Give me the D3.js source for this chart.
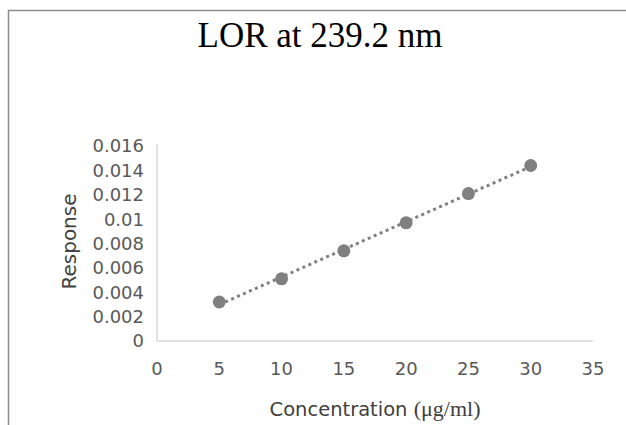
<!DOCTYPE html>
<html>
<head>
<meta charset="utf-8">
<script src="https://cdn.jsdelivr.net/npm/d3@7"></script>
<style>
  body { margin: 0; background: #fff; }
  text { font-family: "DejaVu Sans", sans-serif; }
</style>
</head>
<body>
<div id="chart"></div>
<script>
var concentration = [5, 10, 15, 20, 25, 30];
var response = [0.0032, 0.0051, 0.0074, 0.0097, 0.0121, 0.0144];
var xTicks = [0, 5, 10, 15, 20, 25, 30, 35];
var yTicks = [0, 0.002, 0.004, 0.006, 0.008, 0.01, 0.012, 0.014, 0.016];

var width = 626, height = 425;
var margin = {top: 146, left: 157, right: 33, bottom: 84};

var svg = d3.select('#chart').append('svg')
  .attr('width', width)
  .attr('height', height);

// chart frame (only top and left edges visible in the crop)
svg.append('path')
  .attr('d', 'M8.5,' + height + 'V10.5H' + width)
  .attr('fill', 'none')
  .attr('stroke', '#8c8c8c')
  .attr('stroke-width', 1.5);

var x = d3.scaleLinear().domain([0, 35]).range([margin.left, width - margin.right]);
var y = d3.scaleLinear().domain([0, 0.016]).range([height - margin.bottom, margin.top]);

svg.append('text')
  .attr('x', 320).attr('y', 47)
  .attr('text-anchor', 'middle')
  .style('font-family', '"Liberation Serif", serif')
  .style('font-size', '35px')
  .attr('fill', '#000')
  .text('LOR at 239.2 nm');

// axis lines
svg.append('line')
  .attr('x1', x(0)).attr('x2', x(0))
  .attr('y1', y(0.016) - 2).attr('y2', y(0))
  .attr('stroke', '#d9d9d9').attr('stroke-width', 1.5);
svg.append('line')
  .attr('x1', x(0)).attr('x2', x(35))
  .attr('y1', y(0)).attr('y2', y(0))
  .attr('stroke', '#d9d9d9').attr('stroke-width', 1.5);

svg.append('g').selectAll('text')
  .data(yTicks)
  .join('text')
  .attr('x', x(0) - 13)
  .attr('y', function(d) { return y(d); })
  .attr('dy', '0.36em')
  .attr('text-anchor', 'end')
  .attr('fill', '#595959')
  .style('font-size', '18px')
  .text(function(d) { return d3.format('~g')(d); });

svg.append('g').selectAll('text')
  .data(xTicks)
  .join('text')
  .attr('x', function(d) { return x(d); })
  .attr('y', 375)
  .attr('text-anchor', 'middle')
  .attr('fill', '#595959')
  .style('font-size', '18px')
  .text(function(d) { return d; });

svg.append('text')
  .attr('transform', 'translate(76,' + (y(0.008) - 2) + ') rotate(-90)')
  .attr('text-anchor', 'middle')
  .attr('fill', '#404040')
  .style('font-size', '20px')
  .text('Response');

var xt = svg.append('text')
  .attr('x', x(17.5)).attr('y', 416)
  .attr('text-anchor', 'middle')
  .attr('fill', '#404040')
  .style('font-size', '19.5px');
xt.append('tspan').text('Concentration ');
xt.append('tspan')
  .style('font-family', '"Liberation Serif", serif')
  .style('font-size', '22px')
  .text('(\u03bcg/ml)');

// linear trendline (least squares)
var mx = d3.mean(concentration), my = d3.mean(response);
var sxy = d3.sum(concentration, function(c, i) { return (c - mx) * (response[i] - my); });
var sxx = d3.sum(concentration, function(c) { return (c - mx) * (c - mx); });
var slope = sxy / sxx, icpt = my - slope * mx;
var x0 = d3.min(concentration), x1 = d3.max(concentration);

svg.append('line')
  .attr('x1', x(x0)).attr('y1', y(icpt + slope * x0))
  .attr('x2', x(x1)).attr('y2', y(icpt + slope * x1))
  .attr('stroke', '#808080')
  .attr('stroke-width', 3)
  .attr('stroke-dasharray', '3,3.5');

svg.append('g').selectAll('circle')
  .data(concentration)
  .join('circle')
  .attr('cx', function(d) { return x(d); })
  .attr('cy', function(d, i) { return y(response[i]); })
  .attr('r', 6.5)
  .attr('fill', '#808080');
</script>
</body>
</html>
